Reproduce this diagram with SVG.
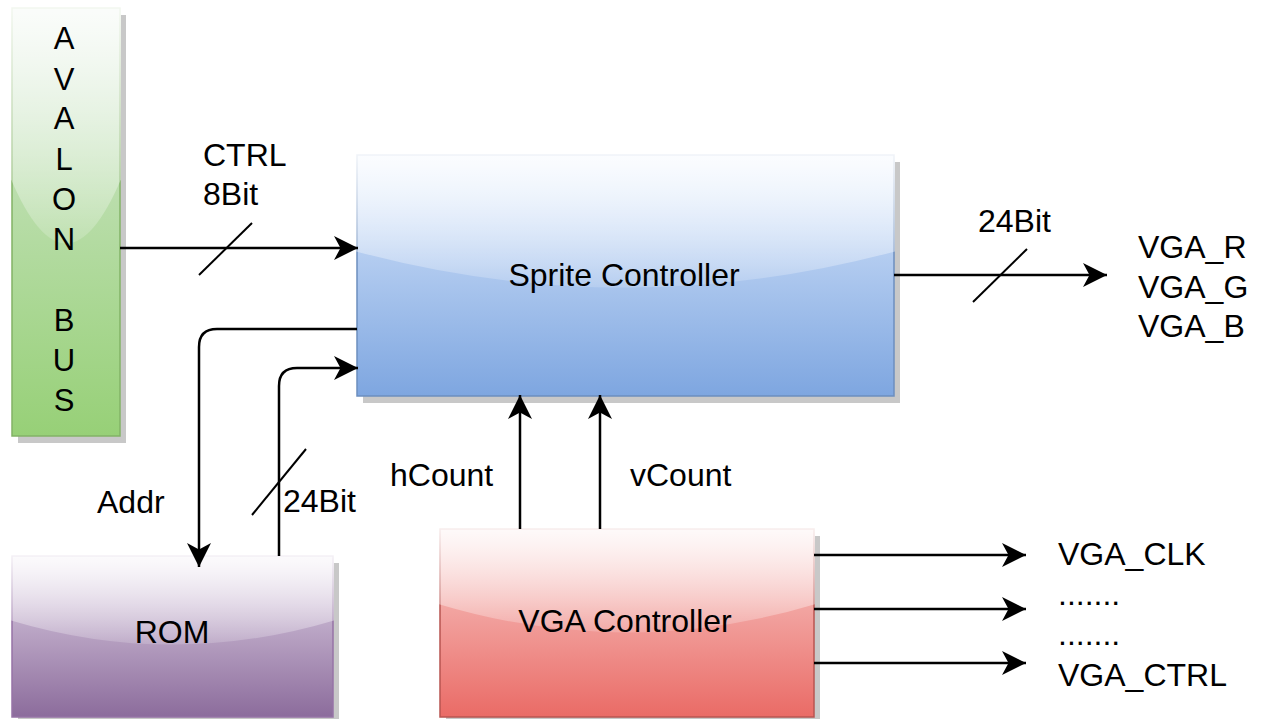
<svg xmlns="http://www.w3.org/2000/svg" width="1263" height="719" viewBox="0 0 1263 719">
<defs>
<linearGradient id="gGreen" x1="0" y1="0" x2="0" y2="1"><stop offset="0" stop-color="#d5e8d4"/><stop offset="1" stop-color="#97d077"/></linearGradient>
<linearGradient id="gBlue" x1="0" y1="0" x2="0" y2="1"><stop offset="0" stop-color="#dae8fc"/><stop offset="1" stop-color="#7ea6e0"/></linearGradient>
<linearGradient id="gPurple" x1="0" y1="0" x2="0" y2="1"><stop offset="0" stop-color="#e1d5e7"/><stop offset="1" stop-color="#8c6c9c"/></linearGradient>
<linearGradient id="gRed" x1="0" y1="0" x2="0" y2="1"><stop offset="0" stop-color="#f8cecc"/><stop offset="1" stop-color="#ea6b66"/></linearGradient>
<linearGradient id="gGlass" x1="0" y1="0" x2="0" y2="1.09"><stop offset="0" stop-color="#fff" stop-opacity="0.9"/><stop offset="1" stop-color="#fff" stop-opacity="0.1"/></linearGradient>
<marker id="arr" markerUnits="userSpaceOnUse" markerWidth="24" markerHeight="24" viewBox="0 0 24 24" refX="24" refY="12" orient="auto">
<path d="M0,0 L24,12 L0,24 L6.5,12 Z" fill="#000"/>
</marker>
</defs>
<style>
text{font-family:"Liberation Sans",Arial,Helvetica,sans-serif;font-size:32px;fill:#000}
.letter{font-size:31px}
.shadow{fill:#c8c8c8}
.glass{fill:url(#gGlass)}
.wire{fill:none;stroke:#000;stroke-width:2.5}
.slash{stroke:#000;stroke-width:2}
.mid{text-anchor:middle}
</style>

<g id="avalon-bus">
<rect class="shadow" x="18" y="15" width="108" height="428"/>
<rect x="12" y="8" width="108" height="428" fill="url(#gGreen)" stroke="#82b366" stroke-width="1.5"/>
<path class="glass" d="M11,7 H121 V179.2 Q66,307.6 11,179.2 Z"/>
<text class="mid letter" x="64" y="49">A</text>
<text class="mid letter" x="64" y="90">V</text>
<text class="mid letter" x="64" y="129">A</text>
<text class="mid letter" x="64" y="170">L</text>
<text class="mid letter" x="64" y="210">O</text>
<text class="mid letter" x="64" y="250">N</text>
<text class="mid letter" x="64" y="331">B</text>
<text class="mid letter" x="64" y="371">U</text>
<text class="mid letter" x="64" y="411">S</text>
</g>

<g id="sprite-controller">
<rect class="shadow" x="363" y="162" width="537" height="241"/>
<rect x="357" y="155" width="537" height="241" fill="url(#gBlue)" stroke="#6c8ebf" stroke-width="1.5"/>
<path class="glass" d="M356,154 H895 V251.4 Q625.5,323.7 356,251.4 Z"/>
<text class="mid" x="624" y="286">Sprite Controller</text>
</g>

<g id="rom">
<rect class="shadow" x="18" y="563" width="321" height="161"/>
<rect x="12" y="556" width="321" height="161" fill="url(#gPurple)" stroke="#9673a6" stroke-width="1.5"/>
<path class="glass" d="M11,555 H334 V620.4 Q172.5,668.7 11,620.4 Z"/>
<text class="mid" x="172" y="643">ROM</text>
</g>

<g id="vga-controller">
<rect class="shadow" x="446" y="536" width="374" height="188"/>
<rect x="440" y="529" width="374" height="188" fill="url(#gRed)" stroke="#b85450" stroke-width="1.5"/>
<path class="glass" d="M439,528 H815 V604.2 Q627,660.6 439,604.2 Z"/>
<text class="mid" x="625" y="632">VGA Controller</text>
</g>

<g id="connectors">
<path class="wire" d="M120,248 H358" marker-end="url(#arr)"/>
<line class="slash" x1="199" y1="275" x2="252" y2="223"/>
<path class="wire" d="M357,329 H217 Q199,329 199,347 V567" marker-end="url(#arr)"/>
<path class="wire" d="M279,556 V386 Q279,368 297,368 H358" marker-end="url(#arr)"/>
<line class="slash" x1="252" y1="515" x2="306" y2="449"/>
<path class="wire" d="M894,275 H1107" marker-end="url(#arr)"/>
<line class="slash" x1="973" y1="302" x2="1027" y2="249"/>
<path class="wire" d="M520,529 V395" marker-end="url(#arr)"/>
<path class="wire" d="M600,529 V395" marker-end="url(#arr)"/>
<path class="wire" d="M814,555 H1026" marker-end="url(#arr)"/>
<path class="wire" d="M814,609 H1026" marker-end="url(#arr)"/>
<path class="wire" d="M814,663 H1026" marker-end="url(#arr)"/>
</g>

<g id="labels">
<text x="203" y="166">CTRL</text>
<text x="203" y="205">8Bit</text>
<text x="97" y="513">Addr</text>
<text x="283" y="512">24Bit</text>
<text x="390" y="486">hCount</text>
<text x="630" y="486">vCount</text>
<text x="978" y="232">24Bit</text>
<text x="1138" y="258">VGA_R</text>
<text x="1138" y="298">VGA_G</text>
<text x="1138" y="337">VGA_B</text>
<text x="1058" y="565">VGA_CLK</text>
<text x="1058" y="605">.......</text>
<text x="1058" y="645">.......</text>
<text x="1058" y="686">VGA_CTRL</text>
</g>
</svg>
